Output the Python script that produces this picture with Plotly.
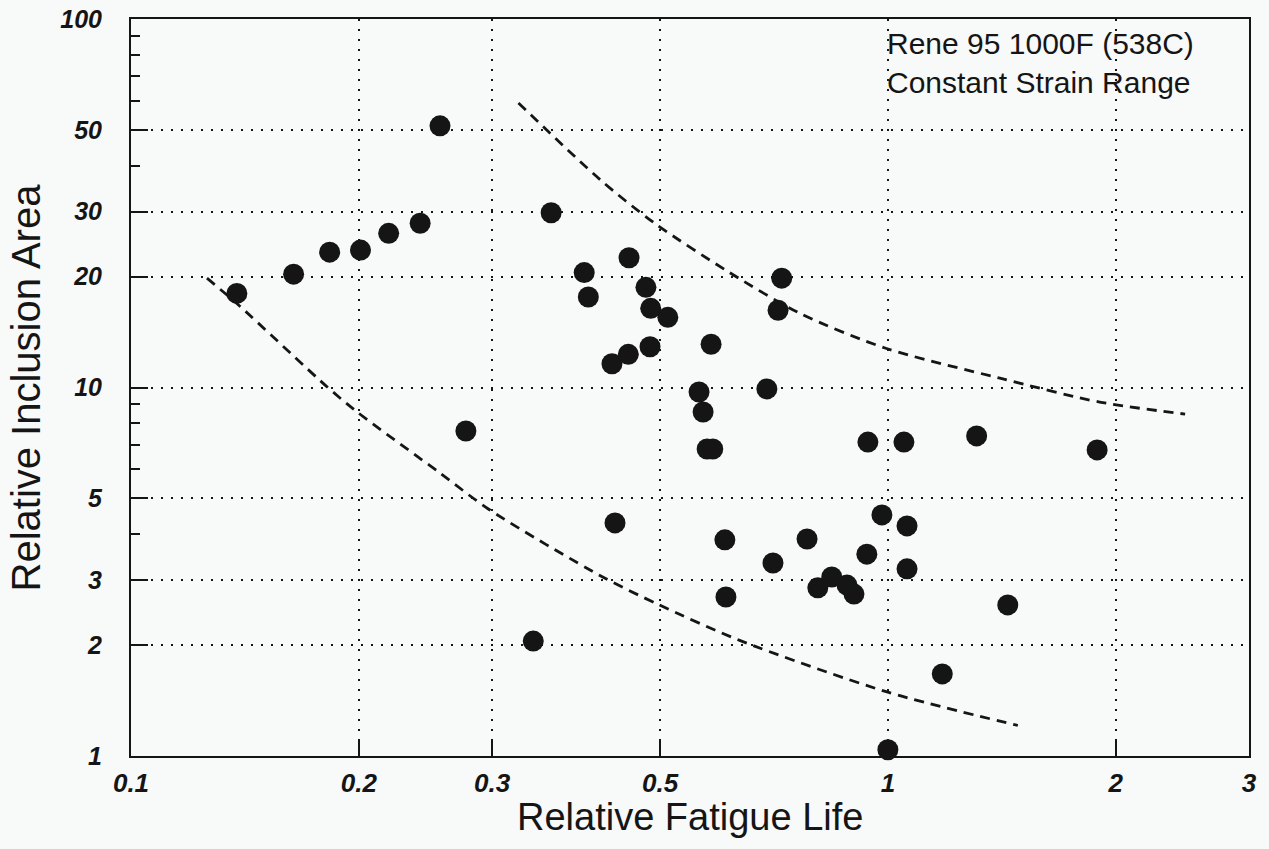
import math
import plotly.graph_objects as go

# ---- data ----
fatigue_life = [0.138, 0.164, 0.183, 0.201, 0.219, 0.241, 0.256, 0.277, 0.359, 0.340,
                0.397, 0.402, 0.455, 0.479, 0.486, 0.512, 0.432, 0.454, 0.485, 0.584,
                0.563, 0.570, 0.577, 0.587, 0.692, 0.716, 0.724, 0.941, 1.05, 1.31,
                1.89, 0.436, 0.609, 0.705, 0.782, 0.938, 0.982, 1.06, 1.06, 0.611,
                0.808, 0.843, 0.883, 0.902, 1.44, 1.18, 1.0]
inclusion_area = [18.0, 20.3, 23.3, 23.6, 26.2, 27.9, 51.3, 7.62, 29.8, 2.05,
                  20.5, 17.6, 22.5, 18.7, 16.4, 15.5, 11.6, 12.3, 12.9, 13.1,
                  9.72, 8.58, 6.81, 6.81, 9.91, 16.2, 19.8, 7.11, 7.11, 7.39,
                  6.77, 4.29, 3.86, 3.34, 3.88, 3.53, 4.51, 4.21, 3.22, 2.70,
                  2.86, 3.06, 2.91, 2.75, 2.57, 1.67, 1.04]

upper_x = [0.325, 0.417, 0.492, 0.618, 0.765, 0.991, 1.406, 1.905, 2.47]
upper_y = [59.2, 36.6, 27.9, 20.5, 15.9, 12.8, 10.6, 9.13, 8.47]

lower_x = [0.126, 0.138, 0.182, 0.199, 0.256, 0.298, 0.420, 0.497, 0.637, 1.0, 1.485]
lower_y = [19.8, 16.9, 10.0, 8.58, 5.86, 4.65, 3.06, 2.58, 2.06, 1.49, 1.21]

x_tickvals = [0.1, 0.2, 0.3, 0.5, 1, 2, 3]
x_ticktext = ["0.1", "0.2", "0.3", "0.5", "1", "2", "3"]
y_tickvals = [1, 2, 3, 5, 10, 20, 30, 50, 100]
y_ticktext = ["1", "2", "3", "5", "10", "20", "30", "50", "100"]
y_minor_vals = [4, 6, 7, 8, 9, 40, 60, 70, 80, 90]

title_x = "Relative Fatigue Life"
title_y = "Relative Inclusion Area"
note_lines = ["Rene 95 1000F (538C)", "Constant Strain Range"]

INK = "#151515"
BG = "#f8f9f9"

FIG_W, FIG_H = 1269, 849
M_L, M_R, M_T, M_B = 131, 20, 19, 93
PLOT_W = FIG_W - M_L - M_R
PLOT_H = FIG_H - M_T - M_B

fig = go.Figure()

for bx, by in ((upper_x, upper_y), (lower_x, lower_y)):
    fig.add_trace(go.Scatter(
        x=bx, y=by, mode="lines",
        line=dict(color=INK, width=2.8, dash="10px,7px", shape="spline", smoothing=0.8),
        hoverinfo="skip", showlegend=False,
    ))

fig.add_trace(go.Scatter(
    x=fatigue_life, y=inclusion_area, mode="markers",
    marker=dict(color=INK, size=21, line=dict(width=0)),
    cliponaxis=False, showlegend=False,
))

tick_font_x = dict(family="Liberation Sans", size=26, color=INK, weight="bold", style="italic")
tick_font_y = dict(family="Liberation Sans", size=25, color=INK, weight="bold", style="italic")

fig.update_xaxes(
    type="log", range=[math.log10(0.1), math.log10(3)],
    tickmode="array", tickvals=x_tickvals, ticktext=x_ticktext,
    ticks="inside", ticklen=17, tickwidth=2, tickcolor=INK,
    tickfont=tick_font_x, ticklabelstandoff=3, ticklabeloverflow="allow",
    showline=True, linecolor=INK, linewidth=2, mirror=True,
    showgrid=True, gridcolor=INK, gridwidth=1.8, griddash="2px,8px",
    zeroline=False, automargin=False,
)
fig.update_yaxes(
    type="log", range=[0, 2],
    tickmode="array", tickvals=y_tickvals, ticktext=y_ticktext,
    ticks="inside", ticklen=17, tickwidth=2, tickcolor=INK,
    tickfont=tick_font_y, ticklabelstandoff=22, ticklabeloverflow="allow",
    minor=dict(ticks="inside", ticklen=9, tickwidth=2, tickcolor=INK,
               tickvals=y_minor_vals, showgrid=False),
    showline=True, linecolor=INK, linewidth=2, mirror=True,
    showgrid=True, gridcolor=INK, gridwidth=1.8, griddash="2px,8px",
    zeroline=False, automargin=False,
)

# axis titles placed as annotations for exact positioning
fig.add_annotation(
    x=0.5, y=-61 / PLOT_H, xref="paper", yref="paper",
    xanchor="center", yanchor="middle", showarrow=False,
    text=title_x, font=dict(family="Liberation Sans", size=38, color=INK),
)
fig.add_annotation(
    x=-106 / PLOT_W, y=0.5, xref="paper", yref="paper",
    xanchor="center", yanchor="middle", showarrow=False, textangle=-90,
    text=title_y, font=dict(family="Liberation Sans", size=40, color=INK),
)

fig.add_annotation(
    x=0, y=2, xref="x", yref="y", xanchor="left", yanchor="top",
    xshift=-3, yshift=-6,
    text="<br>".join(note_lines), align="left", showarrow=False,
    font=dict(family="Liberation Sans", size=30, color=INK),
    bgcolor="rgba(0,0,0,0)",
)

fig.update_layout(
    width=FIG_W, height=FIG_H,
    margin=dict(l=M_L, r=M_R, t=M_T, b=M_B, autoexpand=False),
    paper_bgcolor=BG, plot_bgcolor=BG,
    showlegend=False,
)

fig.write_html(
    "out.html",
    config={"displayModeBar": False},
    post_script="document.body.style.margin='0';document.body.style.background='%s';" % BG,
)
